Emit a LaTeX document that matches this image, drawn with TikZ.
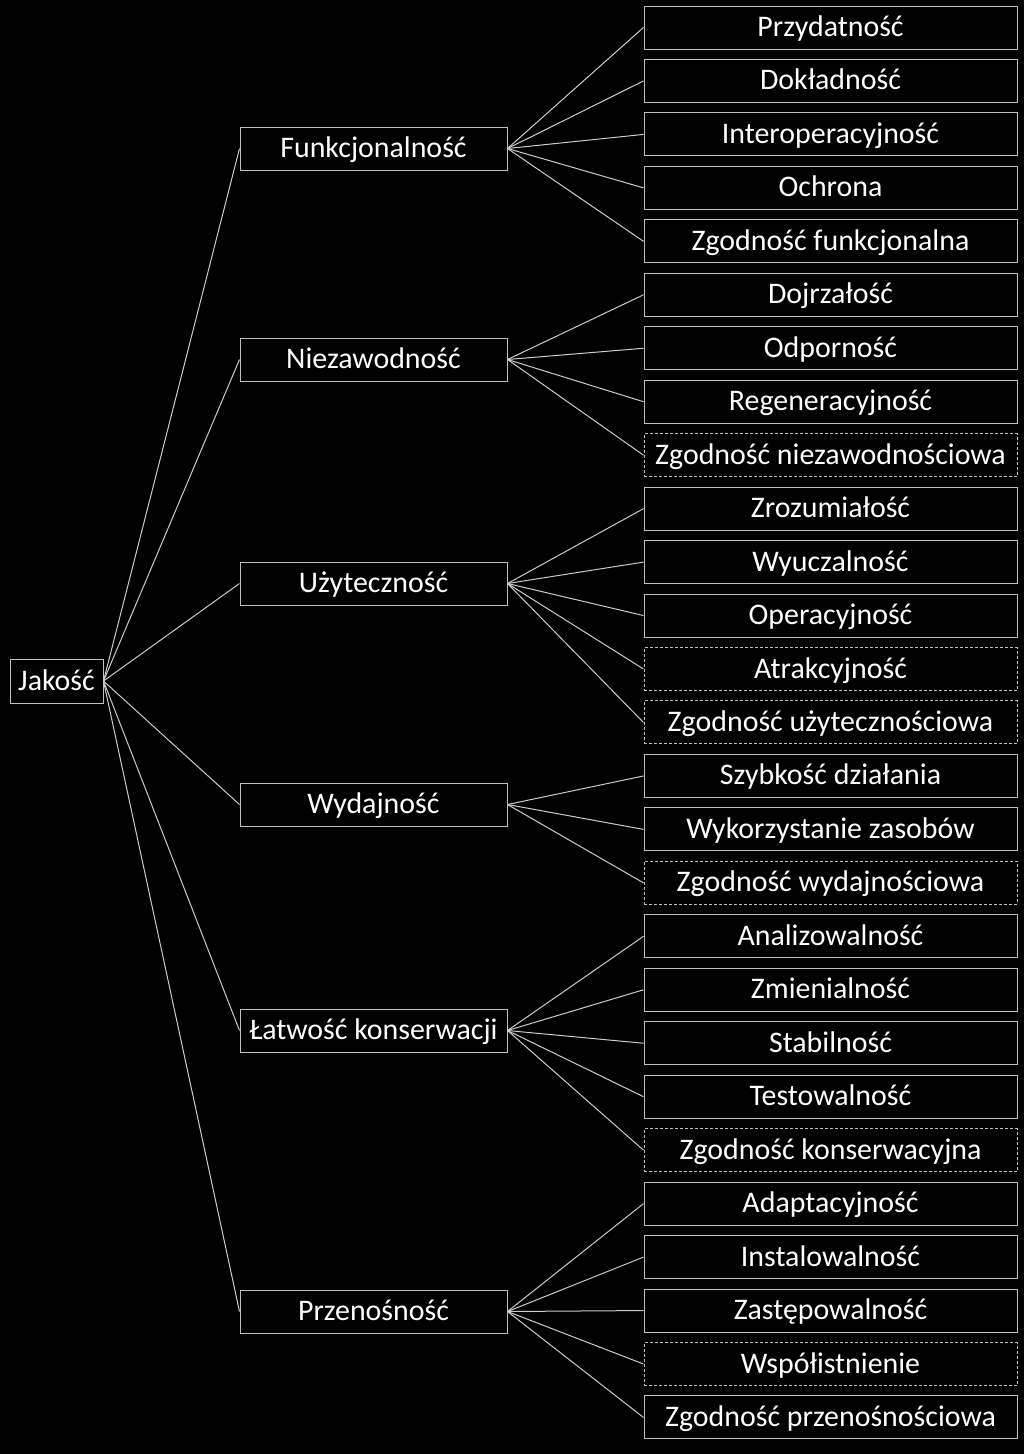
\documentclass[tikz,border=0pt]{standalone}
\usepackage{fontspec}
\setmainfont{Carlito}

\def\rowsep{53.46}

\begin{document}
\begin{tikzpicture}[x=1pt, y=-1pt, line width=1pt, draw=white!80!black]
    \tikzstyle{box}=[draw=white!75!black, text=white, inner sep=0pt, minimum height=43pt,
        font=\fontsize{29.9}{35}\selectfont, text height=25pt, text depth=7pt]
    \tikzstyle{leaf}=[box, minimum width=373pt]
    \tikzstyle{dleaf}=[leaf, dash pattern=on 3pt off 2pt]
    \tikzstyle{group}=[box, minimum width=267pt]

    % Background and bounding box
    \fill[black] (0,0) rectangle (1024,1454);
    \useasboundingbox (0,0) rectangle (1024,1454);

    % Draw the root node
    \node[box, minimum width=93pt, minimum height=44pt] (Q) at (56.5,681) {Jakość};

    % Draw the characteristics
    \foreach \name / \y / \txt in {1/148.5/Funkcjonalność, 2/359.5/Niezawodność,
        3/583.5/Użyteczność, 4/804.5/Wydajność, 5/1030.5/Łatwość konserwacji,
        6/1311.5/Przenośność}
        \node[group] (C-\name) at (373.5,\y) {\txt};

    % Draw the subcharacteristics
    \foreach \name / \txt / \st in {1/Przydatność/leaf, 2/Dokładność/leaf,
        3/Interoperacyjność/leaf, 4/Ochrona/leaf, 5/Zgodność funkcjonalna/leaf,
        6/Dojrzałość/leaf, 7/Odporność/leaf, 8/Regeneracyjność/leaf,
        9/Zgodność niezawodnościowa/dleaf, 10/Zrozumiałość/leaf, 11/Wyuczalność/leaf,
        12/Operacyjność/leaf, 13/Atrakcyjność/dleaf, 14/Zgodność użytecznościowa/dleaf,
        15/Szybkość działania/leaf, 16/Wykorzystanie zasobów/leaf,
        17/Zgodność wydajnościowa/dleaf, 18/Analizowalność/leaf, 19/Zmienialność/leaf,
        20/Stabilność/leaf, 21/Testowalność/leaf, 22/Zgodność konserwacyjna/dleaf,
        23/Adaptacyjność/leaf, 24/Instalowalność/leaf, 25/Zastępowalność/leaf,
        26/Współistnienie/dleaf, 27/Zgodność przenośnościowa/leaf}
        \node[\st] (S-\name) at (830.5,{27.5+\rowsep*(\name-1)}) {\txt};

    % Connect the root with every characteristic
    \foreach \dest in {1,...,6}
        \draw (Q.east) -- (C-\dest.west);

    % Connect every characteristic with its subcharacteristics
    \foreach \source / \first / \last in {1/1/5, 2/6/9, 3/10/14, 4/15/17, 5/18/22, 6/23/27}
        \foreach \dest in {\first,...,\last}
            \draw (C-\source.east) -- (S-\dest.west);
\end{tikzpicture}
\end{document}
